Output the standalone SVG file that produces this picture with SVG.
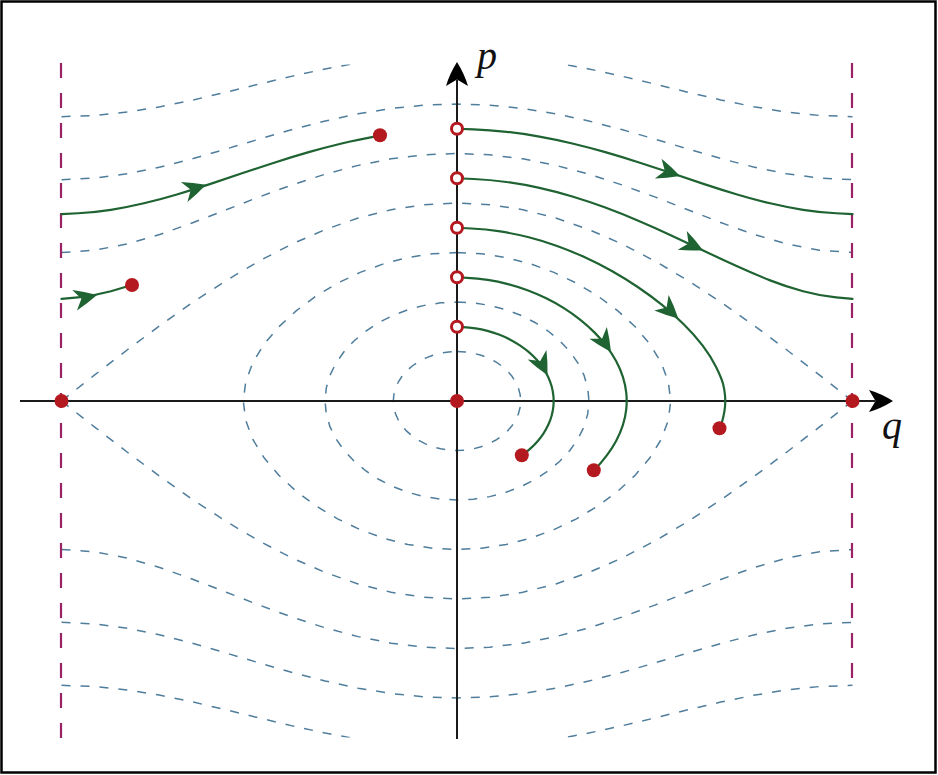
<svg xmlns="http://www.w3.org/2000/svg" xmlns:xlink="http://www.w3.org/1999/xlink" width="938" height="775" viewBox="0 0 938 775">
<style>
.lvl{fill:none;stroke:#4f7d9c;stroke-width:1.5;stroke-dasharray:9 10}
.wall{fill:none;stroke:#9a2366;stroke-width:2.2;stroke-dasharray:15 15}
.axis{fill:none;stroke:#1a1a1a;stroke-width:2}
.traj{fill:none;stroke:#1e6331;stroke-width:2.2;stroke-linejoin:round;stroke-linecap:round}
.dot{fill:#b3191f}
.odot{fill:#fff;stroke:#b3191f;stroke-width:3}
.lbl{font-family:"Liberation Serif","DejaVu Serif",serif;font-style:italic;font-size:40px;fill:#111}
</style>
<defs>
<clipPath id="clip"><rect x="0" y="64.5" width="938" height="673"/></clipPath>
<path id="axh" d="M0,0 Q-12,-7.5 -24,-11 L-17.5,0 L-24,11 Q-12,7.5 0,0 Z" fill="#000"/>
<path id="gah" d="M0,0 Q-12,-6.5 -23,-10.5 L-16,0 L-23,10.5 Q-12,6.5 0,0 Z" fill="#1e6331"/>
</defs>
<rect x="1.5" y="1.5" width="934" height="771" fill="#fff" stroke="#000" stroke-width="2.5"/>

<g id="level-curves" clip-path="url(#clip)">
<path class="lvl" d="M457,351.5 L465.22,351.92 L473.32,353.19 L481.15,355.27 L488.58,358.13 L495.5,361.73 L501.78,366 L507.32,370.87 L511.99,376.25 L515.73,382.06 L518.46,388.19 L520.12,394.54 L520.68,401 L520.12,407.46 L518.46,413.81 L515.73,419.94 L511.99,425.75 L507.32,431.13 L501.78,436 L495.5,440.27 L488.58,443.87 L481.15,446.73 L473.32,448.81 L465.22,450.08 L457,450.5 L448.78,450.08 L440.68,448.81 L432.85,446.73 L425.42,443.87 L418.5,440.27 L412.22,436 L406.68,431.13 L402.01,425.75 L398.27,419.94 L395.54,413.81 L393.88,407.46 L393.32,401 L393.88,394.54 L395.54,388.19 L398.27,382.06 L402.01,376.25 L406.68,370.87 L412.22,366 L418.5,361.73 L425.42,358.13 L432.85,355.27 L440.68,353.19 L448.78,351.92 Z"/>
<path class="lvl" d="M457,302 L473.46,302.85 L489.7,305.37 L505.52,309.54 L520.68,315.26 L534.94,322.46 L548.06,331 L559.79,340.73 L569.85,351.5 L577.99,363.11 L584.07,375.38 L587.75,388.08 L588.95,401 L587.75,413.92 L584.07,426.62 L577.99,438.89 L569.85,450.5 L559.79,461.27 L548.06,471 L534.94,479.54 L520.68,486.74 L505.52,492.46 L489.7,496.63 L473.46,499.15 L457,500 L440.54,499.15 L424.3,496.63 L408.48,492.46 L393.32,486.74 L379.06,479.54 L365.94,471 L354.21,461.27 L344.15,450.5 L336.01,438.89 L329.93,426.62 L326.25,413.92 L325.05,401 L326.25,388.08 L329.93,375.38 L336.01,363.11 L344.15,351.5 L354.21,340.73 L365.94,331 L379.06,322.46 L393.32,315.26 L408.48,309.54 L424.3,305.37 L440.54,302.85 Z"/>
<path class="lvl" d="M457,252.5 L481.71,253.77 L506.23,257.56 L530.36,263.8 L553.87,272.39 L576.46,283.19 L597.86,296 L617.59,310.6 L635.16,326.75 L649.91,344.17 L661.18,362.57 L668.28,381.62 L670.71,401 L668.28,420.38 L661.18,439.43 L649.91,457.83 L635.16,475.25 L617.59,491.4 L597.86,506 L576.46,518.81 L553.87,529.61 L530.36,538.2 L506.23,544.44 L481.71,548.23 L457,549.5 L432.29,548.23 L407.77,544.44 L383.64,538.2 L360.13,529.61 L337.54,518.81 L316.14,506 L296.41,491.4 L278.84,475.25 L264.09,457.83 L252.82,439.43 L245.72,420.38 L243.29,401 L245.72,381.62 L252.82,362.57 L264.09,344.17 L278.84,326.75 L296.41,310.6 L316.14,296 L337.54,283.19 L360.13,272.39 L383.64,263.8 L407.77,257.56 L432.29,253.77 Z"/>
<path class="lvl" d="M61.5,401 L94.4,375.16 L127.4,349.75 L160.4,325.23 L193.3,302 L226.3,280.46 L259.2,260.99 L292.2,243.92 L325.2,229.53 L358.1,218.07 L391.1,209.75 L424,204.7 L457,203 L490,204.7 L522.9,209.75 L555.9,218.07 L588.8,229.53 L621.8,243.92 L654.8,260.99 L687.7,280.46 L720.7,302 L753.6,325.23 L786.6,349.75 L819.6,375.16 L852.5,401"/>
<path class="lvl" d="M61.5,401 L94.4,426.84 L127.4,452.25 L160.4,476.77 L193.3,500 L226.3,521.54 L259.2,541.01 L292.2,558.08 L325.2,572.47 L358.1,583.93 L391.1,592.25 L424,597.3 L457,599 L490,597.3 L522.9,592.25 L555.9,583.93 L588.8,572.47 L621.8,558.08 L654.8,541.01 L687.7,521.54 L720.7,500 L753.6,476.77 L786.6,452.25 L819.6,426.84 L852.5,401"/>
<path class="lvl" d="M61.5,252.5 L94.4,250.27 L127.4,243.91 L160.4,234.29 L193.3,222.53 L226.3,209.74 L259.2,196.91 L292.2,184.84 L325.2,174.16 L358.1,165.38 L391.1,158.86 L424,154.85 L457,153.5 L490,154.85 L522.9,158.86 L555.9,165.38 L588.8,174.16 L621.8,184.84 L654.8,196.91 L687.7,209.74 L720.7,222.53 L753.6,234.29 L786.6,243.91 L819.6,250.27 L852.5,252.5"/>
<path class="lvl" d="M61.5,549.5 L94.4,551.73 L127.4,558.09 L160.4,567.71 L193.3,579.47 L226.3,592.26 L259.2,605.09 L292.2,617.16 L325.2,627.84 L358.1,636.62 L391.1,643.14 L424,647.15 L457,648.5 L490,647.15 L522.9,643.14 L555.9,636.62 L588.8,627.84 L621.8,617.16 L654.8,605.09 L687.7,592.26 L720.7,579.47 L753.6,567.71 L786.6,558.09 L819.6,551.73 L852.5,549.5"/>
<path class="lvl" d="M61.5,179.63 L94.4,178.13 L127.4,173.78 L160.4,167.02 L193.3,158.5 L226.3,148.94 L259.2,139.07 L292.2,129.56 L325.2,120.99 L358.1,113.83 L391.1,108.45 L424,105.13 L457,104 L490,105.13 L522.9,108.45 L555.9,113.83 L588.8,120.99 L621.8,129.56 L654.8,139.07 L687.7,148.94 L720.7,158.5 L753.6,167.02 L786.6,173.78 L819.6,178.13 L852.5,179.63"/>
<path class="lvl" d="M61.5,622.37 L94.4,623.87 L127.4,628.22 L160.4,634.98 L193.3,643.5 L226.3,653.06 L259.2,662.93 L292.2,672.44 L325.2,681.01 L358.1,688.17 L391.1,693.55 L424,696.87 L457,698 L490,696.87 L522.9,693.55 L555.9,688.17 L588.8,681.01 L621.8,672.44 L654.8,662.93 L687.7,653.06 L720.7,643.5 L753.6,634.98 L786.6,628.22 L819.6,623.87 L852.5,622.37"/>
<path class="lvl" d="M61.5,116.64 L94.4,115.47 L127.4,112.06 L160.4,106.72 L193.3,99.9 L226.3,92.15 L259.2,84.05 L292.2,76.14 L325.2,68.94 L358.1,62.89 L391.1,58.31 L424,55.47 L457,54.5 L490,55.47 L522.9,58.31 L555.9,62.89 L588.8,68.94 L621.8,76.14 L654.8,84.05 L687.7,92.15 L720.7,99.9 L753.6,106.72 L786.6,112.06 L819.6,115.47 L852.5,116.64"/>
<path class="lvl" d="M61.5,685.36 L94.4,686.53 L127.4,689.94 L160.4,695.28 L193.3,702.1 L226.3,709.85 L259.2,717.95 L292.2,725.86 L325.2,733.06 L358.1,739.11 L391.1,743.69 L424,746.53 L457,747.5 L490,746.53 L522.9,743.69 L555.9,739.11 L588.8,733.06 L621.8,725.86 L654.8,717.95 L687.7,709.85 L720.7,702.1 L753.6,695.28 L786.6,689.94 L819.6,686.53 L852.5,685.36"/>
</g>

<g id="walls">
<line class="wall" x1="61" y1="63" x2="61" y2="739"/>
<line class="wall" x1="852" y1="63" x2="852" y2="693"/>
</g>

<g id="axes">
<line class="axis" x1="20" y1="401" x2="875" y2="401"/>
<line class="axis" x1="457" y1="739" x2="457" y2="80"/>
<use xlink:href="#axh" transform="translate(893,401)"/>
<use xlink:href="#axh" transform="translate(457,62) rotate(-90)"/>
<text class="lbl" x="477" y="69">p</text>
<text class="lbl" x="882" y="439">q</text>
</g>

<g id="trajectories">
<path class="traj" d="M457,128.75 L473.5,129.37 Q490,129.98 506.45,131.8 Q522.9,133.62 539.4,136.57 Q555.9,139.51 572.35,143.45 Q588.8,147.39 605.3,152.14 Q621.8,156.89 638.3,162.2 Q654.8,167.51 671.25,173.08 Q687.7,178.64 704.2,184.09 Q720.7,189.54 737.15,194.45 Q753.6,199.36 770.1,203.3 Q786.6,207.24 803.1,209.8 Q819.6,212.36 836.05,213.25 L852.5,214.14"/>
<path class="traj" d="M61.5,214.14 L77.95,213.25 Q94.4,212.36 110.9,209.8 Q127.4,207.24 143.9,203.3 Q160.4,199.36 176.85,194.45 Q193.3,189.54 209.8,184.09 Q226.3,178.64 242.75,173.08 Q259.2,167.51 275.7,162.2 Q292.2,156.89 308.7,152.14 Q325.2,147.39 341.65,143.45 Q358.1,139.51 380,135.6"/>
<path class="traj" d="M457,178.25 L473.5,179 Q490,179.75 506.45,181.99 Q522.9,184.23 539.4,187.88 Q555.9,191.53 572.35,196.5 Q588.8,201.46 605.3,207.57 Q621.8,213.68 638.3,220.72 Q654.8,227.75 671.25,235.41 Q687.7,243.07 704.2,250.95 Q720.7,258.82 737.15,266.36 Q753.6,273.9 770.1,280.36 Q786.6,286.81 803.1,291.27 Q819.6,295.73 836.05,297.34 L852.5,298.95"/>
<path class="traj" d="M61.5,298.95 L77.95,297.34 Q94.4,295.73 110.9,291.27 L132,285"/>
<path class="traj" d="M457,227.75 L471.43,228.49 Q485.85,229.23 500.21,231.44 Q514.57,233.65 528.81,237.3 Q543.04,240.94 557.08,245.95 Q571.11,250.96 584.84,257.26 Q598.56,263.55 611.84,271.02 Q625.11,278.49 637.73,287.01 Q650.35,295.53 662.02,304.95 Q673.69,314.37 683.97,324.54 Q694.24,334.7 702.49,345.43 Q710.74,356.16 716.2,367.28 Q721.65,378.39 723.09,384.03 Q724.52,389.67 725.01,395.34 Q725.49,401 725.01,406.67 Q724.52,412.33 723.09,417.97 Q721.65,423.61 720.07,428.1"/>
<path class="traj" d="M457,277.25 L467.29,277.78 Q477.58,278.31 487.76,279.89 Q497.94,281.47 507.9,284.07 Q517.86,286.67 527.48,290.25 Q537.09,293.83 546.23,298.33 Q555.36,302.82 563.86,308.16 Q572.36,313.5 580.05,319.58 Q587.74,325.66 594.44,332.39 Q601.13,339.12 606.63,346.38 Q612.12,353.64 616.23,361.31 Q620.33,368.97 622.87,376.91 Q625.41,384.85 626.27,392.93 Q627.13,401 626.27,409.08 Q625.41,417.15 622.87,425.06 Q620.33,432.97 616.23,440.67 Q612.12,448.36 606.63,455.62 Q601.13,462.88 594.26,470.2"/>
<path class="traj" d="M457,326.75 L463.17,327.07 Q469.34,327.39 475.42,328.34 Q481.5,329.28 487.4,330.84 Q493.29,332.4 498.91,334.55 Q504.53,336.7 509.79,339.4 Q515.04,342.09 519.84,345.3 Q524.63,348.5 528.88,352.15 Q533.12,355.8 536.74,359.84 Q540.35,363.87 543.25,368.23 Q546.15,372.59 548.28,377.19 Q550.4,381.78 551.7,386.55 Q552.99,391.31 553.43,396.16 Q553.87,401 553.43,405.85 Q552.99,410.69 551.7,415.46 Q550.4,420.22 548.28,424.82 Q546.15,429.41 543.25,433.77 Q540.35,438.13 536.74,442.17 Q533.12,446.2 528.88,449.85 Q524.63,453.5 522.6,455"/>
<use xlink:href="#gah" transform="translate(680,176) rotate(18.6)"/>
<use xlink:href="#gah" transform="translate(206,184.8) rotate(-18.2)"/>
<use xlink:href="#gah" transform="translate(703,250.3) rotate(25.6)"/>
<use xlink:href="#gah" transform="translate(97,295.1) rotate(-13)"/>
<use xlink:href="#gah" transform="translate(678.3,318.4) rotate(43)"/>
<use xlink:href="#gah" transform="translate(611,352) rotate(56)"/>
<use xlink:href="#gah" transform="translate(547.5,375.3) rotate(63)"/>
</g>

<g id="points">
<circle class="dot" cx="61.5" cy="401" r="7"/>
<circle class="dot" cx="852.5" cy="401" r="7"/>
<circle class="dot" cx="457" cy="401" r="7"/>
<circle class="dot" cx="380" cy="135.3" r="7"/>
<circle class="dot" cx="132" cy="285" r="7"/>
<circle class="dot" cx="719.5" cy="428.2" r="7"/>
<circle class="dot" cx="593.8" cy="470.3" r="7"/>
<circle class="dot" cx="521.8" cy="455.2" r="7"/>
<circle class="odot" cx="457" cy="128.75" r="5.5"/>
<circle class="odot" cx="457" cy="178.25" r="5.5"/>
<circle class="odot" cx="457" cy="227.75" r="5.5"/>
<circle class="odot" cx="457" cy="277.25" r="5.5"/>
<circle class="odot" cx="457" cy="326.75" r="5.5"/>
</g>
</svg>
